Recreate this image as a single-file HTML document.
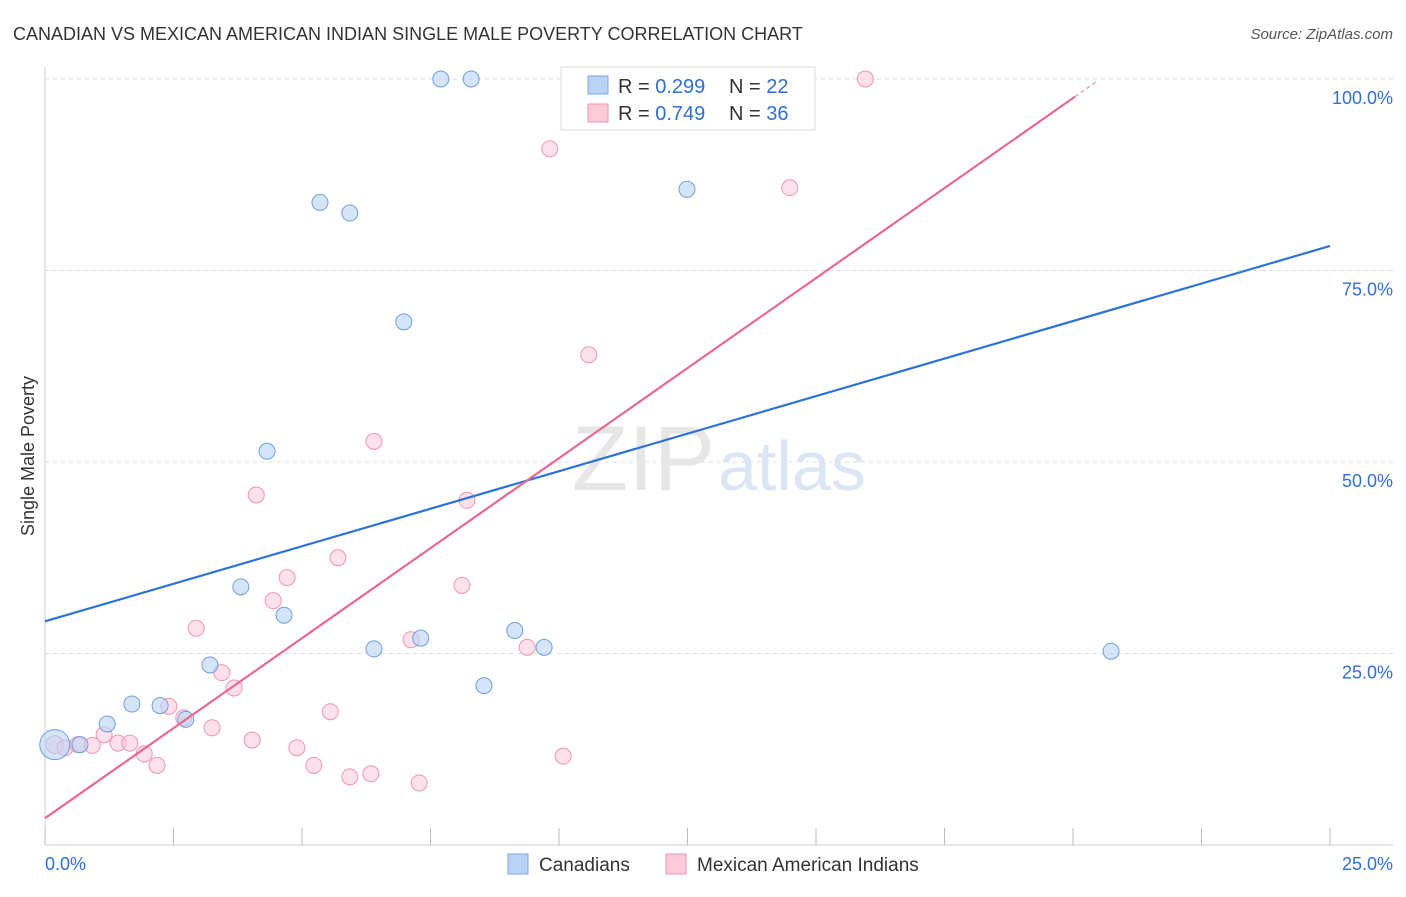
<!DOCTYPE html>
<html><head><meta charset="utf-8"><style>
body{margin:0;background:#fff;font-family:"Liberation Sans",sans-serif;}
svg text{font-family:"Liberation Sans",sans-serif;}
</style></head><body>
<svg width="1406" height="892" xmlns="http://www.w3.org/2000/svg">
<text x="13" y="40" font-size="18" fill="#333">CANADIAN VS MEXICAN AMERICAN INDIAN SINGLE MALE POVERTY CORRELATION CHART</text>
<text x="1393" y="39" font-size="15" fill="#555" text-anchor="end" font-style="italic">Source: ZipAtlas.com</text>
<g id="grid"></g>
<text x="715" y="490" font-size="92" fill="#e6e6e6" text-anchor="end" font-family="Liberation Serif">ZIP</text>
<text x="718" y="490" font-size="70" fill="#dbe6f5">atlas</text>
<text transform="translate(34,456) rotate(-90)" font-size="18" fill="#333" text-anchor="middle">Single Male Poverty</text>
<g id="pts"></g>
<g id="lines"></g>
<g>
<rect x="561" y="67" width="254" height="63" fill="#fff" stroke="#ddd"/>
<rect x="588" y="76" width="20" height="18" fill="#b9d3f5" stroke="#7aa6e0"/>
<rect x="588" y="104" width="20" height="18" fill="#fbc9d8" stroke="#ef95b2"/>
<text x="618" y="93" font-size="20" fill="#333">R = <tspan fill="#2f6fd6">0.299</tspan></text>
<text x="729" y="93" font-size="20" fill="#333">N = <tspan fill="#2f6fd6">22</tspan></text>
<text x="618" y="120" font-size="20" fill="#333">R = <tspan fill="#2f6fd6">0.749</tspan></text>
<text x="729" y="120" font-size="20" fill="#333">N = <tspan fill="#2f6fd6">36</tspan></text>
</g>
<g>
<rect x="508" y="854" width="20" height="20" fill="#b9d3f5" stroke="#7aa6e0"/>
<text x="539" y="871" font-size="19" fill="#333">Canadians</text>
<rect x="666" y="854" width="20" height="20" fill="#fbc9d8" stroke="#ef95b2"/>
<text x="697" y="871" font-size="19" fill="#333">Mexican American Indians</text>
</g>
<text x="45" y="870" font-size="18" fill="#2f6fd6">0.0%</text>
<text x="1393" y="870" font-size="18" fill="#2f6fd6" text-anchor="end">25.0%</text>
</svg>
<script>
const yTicks=[100,75,50,25];
const xTickVals=[0,2.5,5,7.5,10,12.5,15,17.5,20,22.5,25];
const blueX=[0.19,0.68,1.21,1.69,2.24,2.74,3.21,3.81,4.32,4.65,5.35,5.93,6.40,6.98,7.31,7.70,8.29,8.54,9.14,9.71,12.49,20.74];
const blueY=[13.1,13.1,15.8,18.4,18.2,16.4,23.5,33.7,51.4,30.0,83.9,82.5,25.6,68.3,27.0,100,100,20.8,28.0,25.8,85.6,25.3];
const pinkX=[0.19,0.39,0.64,0.92,1.15,1.42,1.65,1.93,2.18,2.41,2.70,2.94,3.25,3.44,3.68,4.03,4.11,4.44,4.71,4.90,5.23,5.55,5.70,5.93,6.34,6.40,7.12,7.28,8.11,8.21,9.38,9.82,10.08,10.58,14.49,15.96];
const pinkY=[13.1,12.7,13.1,13.0,14.4,13.3,13.3,11.9,10.4,18.1,16.6,28.3,15.3,22.5,20.5,13.7,45.7,31.9,34.9,12.7,10.4,17.4,37.5,8.9,9.3,52.7,26.8,8.1,33.9,45.0,25.8,90.9,11.6,64.0,85.8,100];
const blueSize=[14,9,9,9,9,9,9,9,9,9,9,9,9,9,9,9,9,9,9,9,9,9];
const blueLine=[0,29.2,25,78.2];
const pinkLine=[0,3.5,20.04,97.7];
const NS="http://www.w3.org/2000/svg";
const X=v=>45+v/25*1285, Y=v=>845-v/100*766;
function mk(t,a,p){const e=document.createElementNS(NS,t);for(const k in a)e.setAttribute(k,a[k]);p.appendChild(e);return e;}
const grid=document.getElementById('grid');
mk('line',{x1:45,y1:67,x2:45,y2:845,stroke:'#ccc'},grid);
mk('line',{x1:45,y1:845,x2:1393,y2:845,stroke:'#ccc'},grid);
yTicks.forEach(t=>{
 const l=mk('line',{x1:45,y1:Y(t),x2:1393,y2:Y(t),stroke:'#ddd','stroke-dasharray':'4,4'},grid);
 
 
 const tx=mk('text',{x:1393,y:Y(t)+25,'font-size':18,fill:'#2f6fd6','text-anchor':'end'},grid);
 tx.textContent=t.toFixed(1)+'%';
 
 
});
xTickVals.forEach(t=>{
 const l=mk('line',{x1:X(t),y1:828,x2:X(t),y2:845,stroke:'#bbb'},grid);
 
 
});
const pts=document.getElementById('pts');
pinkX.forEach((v,i)=>{
 const c=mk('circle',{cx:X(v),cy:Y(pinkY[i]),r:i==0?9:8,fill:'rgba(251,201,216,0.55)',stroke:'#ef95b2','stroke-width':1},pts);
 
 
});
blueX.forEach((v,i)=>{
 const c=mk('circle',{cx:X(v),cy:Y(blueY[i]),r:blueSize[i]==14?15:8,fill:'rgba(185,211,245,0.6)',stroke:'#6e9edc','stroke-width':1},pts);
 
 
});
const lines=document.getElementById('lines');
const bl=mk('line',{x1:X(blueLine[0]),y1:Y(blueLine[1]),x2:X(blueLine[2]),y2:Y(blueLine[3]),stroke:'#2c72d8','stroke-width':2.2},lines);


const pl=mk('line',{x1:X(pinkLine[0]),y1:Y(pinkLine[1]),x2:X(pinkLine[2]),y2:Y(pinkLine[3]),stroke:'#e8688f','stroke-width':2.2},lines);


const sl=(pinkLine[3]-pinkLine[1])/(pinkLine[2]-pinkLine[0]);
const pd=mk('line',{x1:X(pinkLine[2]),y1:Y(pinkLine[3]),x2:X(pinkLine[2]+0.4),y2:Y(pinkLine[3]+0.4*sl),stroke:'#f0a0b8','stroke-width':1.5,'stroke-dasharray':'4,3'},lines);


</script>
</body></html>
